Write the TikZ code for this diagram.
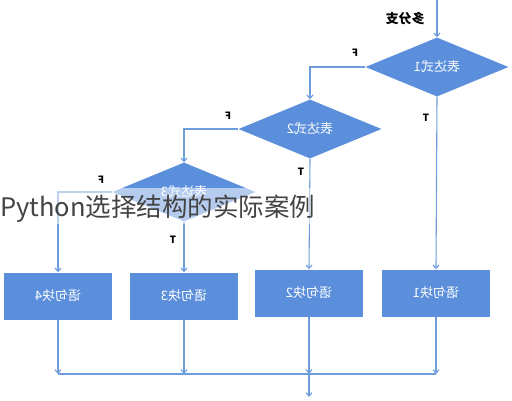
\documentclass[tikz,border=0pt]{standalone}
\usepackage{fontspec}
\usepackage{graphicx}
\newfontfamily\cjk{Noto Sans CJK SC}
\usetikzlibrary{shapes.geometric,arrows.meta}
\definecolor{boxblue}{HTML}{5B8FDC}
\definecolor{lineblue}{HTML}{6D9DDA}
\definecolor{overlaygray}{HTML}{444444}
\newcommand\mirr[1]{\scalebox{-1}[1]{#1}}
\tikzset{
  decision/.style={diamond, fill=boxblue, draw=none, inner sep=0pt, aspect=2.4,
    minimum width=143pt, minimum height=59pt, text=white, font=\cjk\fontsize{13pt}{13pt}\selectfont},
  stmt/.style={rectangle, fill=boxblue, draw=none, minimum width=108pt, minimum height=47pt,
    text=white, font=\cjk\fontsize{13pt}{13pt}\selectfont},
  flow/.style={draw=lineblue, line width=1.1pt, -{Straight Barb[length=3.5pt,width=6pt]}},
  plain/.style={draw=lineblue, line width=1.1pt},
  tflabel/.style={font=\cjk\bfseries\fontsize{10pt}{10pt}\selectfont, text=black, inner sep=0pt},
}
\begin{document}
\begin{tikzpicture}[x=1pt,y=-1pt]
\useasboundingbox (0,0) rectangle (512,400);
% decisions
\node[decision] (d1) at (437,67) {\mirr{表达式1}};
\node[decision] (d2) at (310,129) {\mirr{表达式2}};
\node[decision] (d3) at (184,192) {\mirr{表达式3}};
% blocks
\node[stmt] (b1) at (436,293) {\mirr{语句块1}};
\node[stmt] (b2) at (309,293) {\mirr{语句块2}};
\node[stmt] (b3) at (184,296) {\mirr{语句块3}};
\node[stmt] (b4) at (58,296) {\mirr{语句块4}};
% labels
\node[font=\cjk\bfseries\fontsize{13pt}{13pt}\selectfont, inner sep=0pt] (lab) at (405,19) {\mirr{多分支}};
\node[tflabel] (f1) at (355,53) {\mirr{F}};
\node[tflabel] (t1) at (426,118) {\mirr{T}};
\node[tflabel] (f2) at (228,116) {\mirr{F}};
\node[tflabel] (t2) at (301,172) {\mirr{T}};
\node[tflabel] (f3) at (101,180) {\mirr{F}};
\node[tflabel] (t3) at (173,240) {\mirr{T}};
% coordinates
\coordinate (top) at (437,0);
\coordinate (c1) at (310,67);
\coordinate (c2) at (184,129);
\coordinate (c3) at (58,192);
\coordinate (m1) at (436,374);
\coordinate (m2) at (309,374);
\coordinate (m3) at (184,374);
\coordinate (m4) at (58,374);
\coordinate (out) at (309,397);
% connectors
\draw[flow] (top) -- (d1.north);
\draw[flow] (d1.west) -- (c1) -- (d2.north);
\draw[flow] (d1.south) -- (b1.north);
\draw[flow] (d2.west) -- (c2) -- (d3.north);
\draw[flow] (d2.south) -- (b2.north);
\draw[flow] (d3.west) -- (c3) -- (b4.north);
\draw[flow] (d3.south) -- (b3.north);
\draw[flow] (b1.south) -- (m1);
\draw[flow] (b2.south) -- (m2);
\draw[flow] (b3.south) -- (m3);
\draw[flow] (b4.south) -- (m4);
\draw[plain] (m4) -- (m1);
\draw[flow] (m2) -- (out);
% overlay caption
\fill[white, opacity=0.55] (0,188) rectangle (322,224);
\node[anchor=west, inner sep=0pt, text=overlaygray, font=\cjk\fontsize{25.5pt}{25.5pt}\selectfont] (cap) at (0,209) {Python选择结构的实际案例};
\end{tikzpicture}
\end{document}
